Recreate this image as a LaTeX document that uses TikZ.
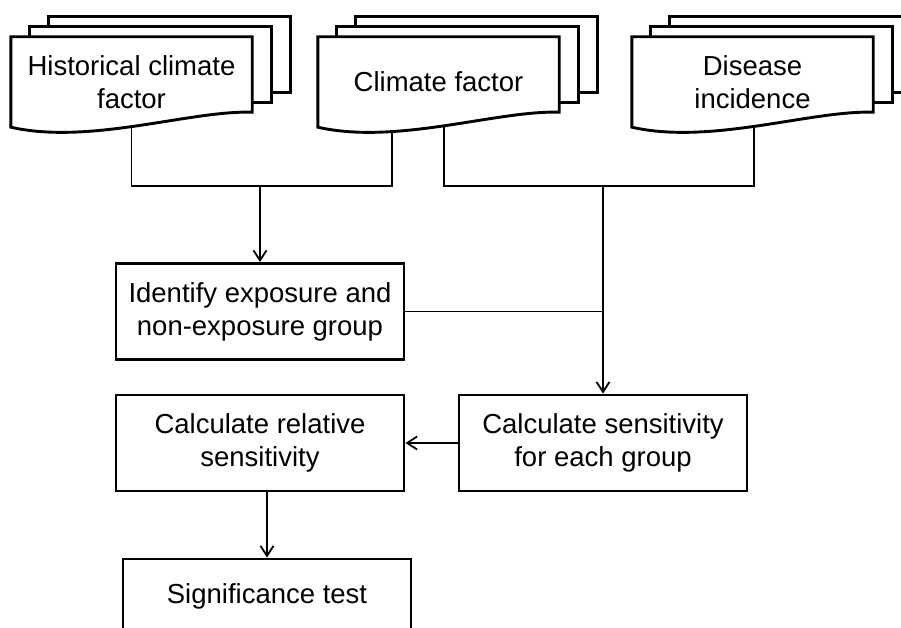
\documentclass[tikz,border=0pt]{standalone}
\usepackage{fontspec}
\setmainfont{Liberation Sans}
\usetikzlibrary{positioning,arrows.meta,backgrounds}

\begin{document}
\begin{tikzpicture}[x=1pt,y=1pt,
    node distance=307pt,on grid,>={Straight Barb[length=10pt,width=13pt,line width=1.8pt]},
    every node/.style={font=\fontsize{27.5}{33}\selectfont},
    doc/.style={minimum width=241pt,minimum height=90pt,inner sep=0pt,align=center},
    page/.style={draw,fill=white,line width=2.9pt},
    block/.style={rectangle,draw,line width=2.9pt,minimum width=288pt,minimum height=96pt,inner sep=0pt,align=center},
    link/.style={line width=1.4pt},
    flow/.style={link,->}]
  \useasboundingbox (0,0) rectangle (901,-628);
% Input data
  \node [doc] (hist) at (131.5,-82) {Historical climate\\factor};
  \node [doc] (clim) [right=of hist] {Climate factor};
  \node [doc] (dis)  [right=of clim,xshift=7pt] {Disease\\incidence};
% Processing steps
  \node [block] (ident)    [below=229.5pt of hist,xshift=128.5pt] {Identify exposure and\\non-exposure group};
  \node [block] (calcrel)  [below=131.5pt of ident] {Calculate relative\\sensitivity};
  \node [block] (calcsens) [right=343pt of calcrel] {Calculate sensitivity\\for each group};
  \node [block] (sig)      [below=153pt of calcrel,xshift=7pt,minimum height=74pt] {Significance test};
% Junctions
  \coordinate (lvl) at (0,-186);
  \coordinate (jl) at (ident.north |- lvl);
  \coordinate (jr) at (calcsens.north |- lvl);
% Stacked documents and their leads
  \begin{scope}[on background layer]
    \draw [link] (hist.center) |- (jl) -| ([xshift=-46.5pt]clim.center);
    \draw [link] ([xshift=5.5pt]clim.center) |- (jr) -| ([xshift=1.5pt]dis.center);
    \foreach \n in {hist,clim,dis} {
      \draw [page] ([shift={(38,20)}]\n.north west) rectangle ([shift={(38,35)}]\n.south east);
      \draw [page] ([shift={(19,10)}]\n.north west) rectangle ([shift={(19,25)}]\n.south east);
      \draw [page] (\n.north west) -- (\n.north east) -- ([yshift=15pt]\n.south east)
        .. controls +(-62,2) and +(79,-18) .. (\n.south west) -- cycle;
    }
  \end{scope}
% Flow
  \draw [flow] (jl) -- (ident);
  \draw [flow] (jr) -- (calcsens);
  \draw [link] (ident.east) -- (ident.east -| jr);
  \draw [flow] (calcsens) -- (calcrel);
  \draw [flow] (calcrel.south -| sig.north) -- (sig.north);
\end{tikzpicture}
\end{document}
